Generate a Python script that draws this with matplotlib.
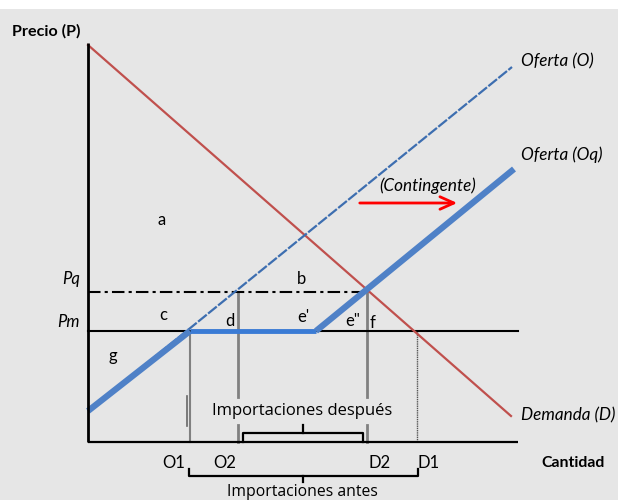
import matplotlib
matplotlib.use("Agg")
import matplotlib.pyplot as plt
from matplotlib.patches import Rectangle

# ---- data (quantity, price) in schematic units ----
demand_q = [0, 423]
demand_p = [397, 26]
supply_q = [0, 424]
supply_p = [31, 375]
quota_q = [0, 102, 228, 426]
quota_p = [31, 111, 111, 273]
Pm = 111
Pq = 150
O1, O2, D2, D1 = 102, 150, 279, 329
q_max = 430
p_max = 399
q_labels = ["O1", "O2", "D2", "D1"]
area_labels = ["a", "b", "c", "d", "e'", 'e"', "f", "g"]
area_q = [74, 214, 75, 142, 215, 265, 285, 25]
area_p = [222, 163, 127, 121, 125, 121, 119, 86]

FONT = ["Lato", "DejaVu Sans"]
WIDE = ["Open Sans", "DejaVu Sans"]
plt.rcParams["font.family"] = FONT

fig = plt.figure(figsize=(6.18, 5.0), dpi=100, facecolor="white")
ax = fig.add_axes([0, 0, 1, 1])
ax.set_xlim(-88, 530)
ax.set_ylim(-58, 442)
ax.axis("off")

# gray background below the white top strip
ax.add_patch(Rectangle((-88, -58), 618, 491, facecolor="#e6e6e6", edgecolor="none", zorder=0))

# axes
ax.plot([0, 0], [0, p_max], color="black", lw=2.0, zorder=5, solid_capstyle="butt")
ax.plot([0, q_max], [0, 0], color="black", lw=1.6, zorder=5, solid_capstyle="butt")

# Pm and Pq lines
ax.plot([0, q_max], [Pm, Pm], color="black", lw=1.5, zorder=3)
ax.plot([0, D2], [Pq, Pq], color="black", lw=1.5, ls=(0, (6, 2, 1.5, 2)), zorder=3)

# vertical guide lines (with gap for the text)
gap_lo, gap_hi = 17, 45
ax.plot([O1, O1], [0, Pm], color="#808080", lw=1.5, zorder=2)
ax.plot([O2, O2], [0, gap_lo], color="#808080", lw=2.0, zorder=2)
ax.plot([O2, O2], [gap_hi, Pq], color="#808080", lw=2.0, zorder=2)
ax.plot([D2, D2], [0, gap_lo], color="#808080", lw=2.0, zorder=2)
ax.plot([D2, D2], [gap_hi, Pq], color="#808080", lw=2.0, zorder=2)
ax.plot([D1, D1], [0, Pm], color="#555555", lw=1.0, ls=(0, (1, 0.6)), zorder=2)
ax.plot([O1 - 3, O1 - 3], [16, 46], color="#666666", lw=1.2, zorder=2)

# curves
ax.plot(demand_q, demand_p, color="#c0504d", lw=1.6, zorder=4)
ax.plot(supply_q, supply_p, color="#3d6eb0", lw=1.6, ls=(0, (5, 0.8)), zorder=4)
ax.plot(quota_q[:2], quota_p[:2], color="#4f81c7", lw=4.5, zorder=4, solid_capstyle="butt")
ax.plot(quota_q[1:3], quota_p[1:3], color="#3a7bd5", lw=3.5, zorder=4, solid_capstyle="butt")
ax.plot(quota_q[2:], quota_p[2:], color="#4f81c7", lw=4.5, zorder=4, solid_capstyle="butt")

# quota shift arrow
ax.annotate("", xy=(372, 239), xytext=(269, 239),
            arrowprops=dict(arrowstyle="->,head_length=1.0,head_width=0.45",
                            color="red", lw=2.0), zorder=6)
ax.text(340, 256, "(Contingente)", style="italic", fontsize=12.3, ha="center", va="center")

# curve labels
ax.text(433, 381, "Oferta (O)", style="italic", fontsize=12.3, ha="left", va="center")
ax.text(433, 287, "Oferta (Oq)", style="italic", fontsize=12.3, ha="left", va="center")
ax.text(433, 27, "Demanda (D)", style="italic", fontsize=12.3, ha="left", va="center")

# axis labels
ax.text(-76, 411, "Precio (P)", fontweight="bold", fontsize=11.6, ha="left", va="center")
ax.text(485, -21, "Cantidad", fontweight="bold", fontsize=11.4, ha="center", va="center")
ax.text(-8, Pq + 13, "Pq", style="italic", fontsize=12, ha="right", va="center")
ax.text(-8, Pm + 9, "Pm", style="italic", fontsize=12, ha="right", va="center")

# area labels
for lbl, q, p in zip(area_labels, area_q, area_p):
    ax.text(q, p, lbl, fontsize=12, ha="center", va="center")

# quantity labels
q_pos = [O1 - 16, O2 - 13, D2 + 13, D1 + 12]
for lbl, q in zip(q_labels, q_pos):
    ax.text(q, -21, lbl, fontsize=12, ha="center", va="center")

# bracket: importaciones después
mid_after = (O2 + D2) / 2
ax.plot([O2 + 5, O2 + 5, D2 - 4, D2 - 4], [0, 9, 9, 0], color="black", lw=1.6, zorder=5)
ax.plot([mid_after, mid_after], [9, 17], color="black", lw=1.6, zorder=5)
ax.text(mid_after, 31, "Importaciones después", family=WIDE, fontsize=12, ha="center", va="center")

# bracket: importaciones antes
mid_before = (O1 + D1) / 2 - 1
ax.plot([O1 - 1, O1 - 1, D1 + 1, D1 + 1], [-27, -34, -34, -27], color="black", lw=1.6, zorder=5)
ax.plot([mid_before, mid_before], [-34, -39.5], color="black", lw=1.6, zorder=5)
ax.text(mid_before, -57.5, "Importaciones antes", family=WIDE, fontsize=11.3,
        ha="center", va="bottom")

fig.savefig("out.png", dpi=100, facecolor="white")
